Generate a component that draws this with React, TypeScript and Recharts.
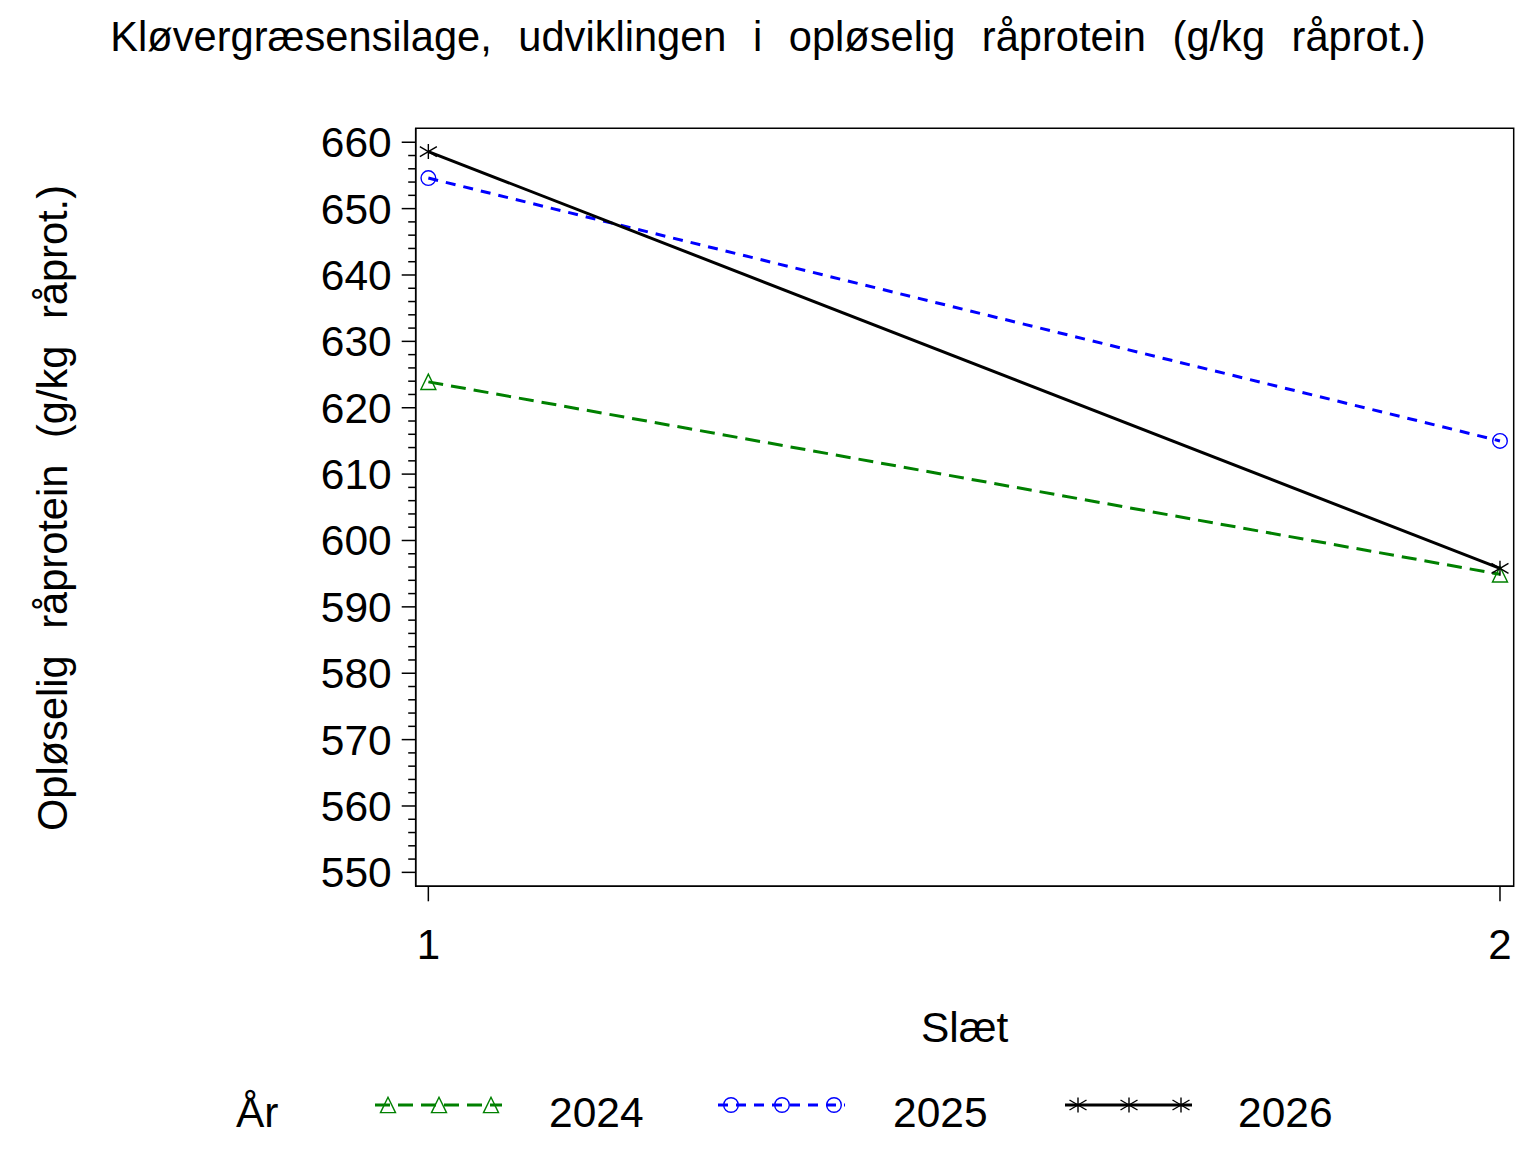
import { LineChart, Line, XAxis, YAxis, ReferenceArea } from 'recharts'

// Kløvergræsensilage — opløselig råprotein pr. slæt, tre år oveni hinanden.

const FONT = '"Liberation Sans", Arial, Helvetica, sans-serif'

const SLAET = [1, 2]
const AAR = ['2024', '2025', '2026']
const VAL_2024 = [623.9, 594.9]
const VAL_2025 = [654.6, 615.0]
const VAL_2026 = [658.6, 595.8]
const Y_MAJOR = [550, 560, 570, 580, 590, 600, 610, 620, 630, 640, 650, 660]
const Y_DOMAIN: [number, number] = [547.9, 662.1]
// lidt luft på hver side af slæt 1 og 2, som i SAS-plottet
const X_DOMAIN: [number, number] = [0.9882, 2.0128]

const TITLE = 'Kløvergræsensilage, udviklingen i opløselig råprotein (g/kg råprot.)'
const Y_TITLE = 'Opløselig råprotein (g/kg råprot.)'
const X_TITLE = 'Slæt'
const LEGEND_TITLE = 'År'

type MarkerType = 'triangle' | 'circle' | 'star'

const SERIES: Array<{ aar: string; values: number[]; color: string; dash?: string; marker: MarkerType }> = [
  { aar: AAR[0], values: VAL_2024, color: '#008000', dash: '15 8', marker: 'triangle' },
  { aar: AAR[1], values: VAL_2025, color: '#0000FF', dash: '10 8', marker: 'circle' },
  { aar: AAR[2], values: VAL_2026, color: '#000000', marker: 'star' },
]

// mindre streger hver 2. enhed mellem de store
const Y_TICKS: number[] = []
Y_MAJOR.forEach((v, i) => {
  Y_TICKS.push(v)
  if (i < Y_MAJOR.length - 1) for (let m = 2; m < 10; m += 2) Y_TICKS.push(v + m)
})

const data = SLAET.map((s, i) => {
  const row: Record<string, number> = { slaet: s }
  SERIES.forEach(se => { row[`v${se.aar}`] = se.values[i] })
  return row
})

function Marker({ type, cx, cy, color }: { type: MarkerType; cx: number; cy: number; color: string }) {
  if (type === 'triangle') {
    return (
      <polygon
        points={`${cx},${cy - 7.7} ${cx - 7.5},${cy + 7.6} ${cx + 7.5},${cy + 7.6}`}
        fill="none" stroke={color} strokeWidth={1.4}
      />
    )
  }
  if (type === 'circle') {
    return <circle cx={cx} cy={cy} r={7.3} fill="none" stroke={color} strokeWidth={1.4} />
  }
  return (
    <g stroke={color} strokeWidth={1.4}>
      <line x1={cx} y1={cy - 7.5} x2={cx} y2={cy + 7.5} />
      <line x1={cx - 8.5} y1={cy - 5} x2={cx + 8.5} y2={cy + 5} />
      <line x1={cx - 8.5} y1={cy + 5} x2={cx + 8.5} y2={cy - 5} />
    </g>
  )
}

function YTick(props: any) {
  const { x, y, payload } = props
  const major = payload.value % 10 === 0
  return (
    <g>
      <line x1={x - (major ? 14 : 7.5)} x2={x} y1={y} y2={y} stroke="#000" strokeWidth={1.5} />
      {major && (
        <text x={x - 24} y={y + 15} textAnchor="end" fontSize={42.5} fontFamily={FONT} fill="#000">
          {payload.value}
        </text>
      )}
    </g>
  )
}

function XTick(props: any) {
  const { x, y, payload } = props
  return (
    <text x={x} y={y + 57.7} textAnchor="middle" fontSize={42} fontFamily={FONT} fill="#000">
      {payload.value}
    </text>
  )
}

const LEGEND_POS = [
  { line: 375, label: 549 },
  { line: 718, label: 893 },
  { line: 1065, label: 1238 },
]

export default function App() {
  return (
    <div style={{ position: 'relative', width: 1536, height: 1152, background: '#fff' }}>
      <style>{'body{margin:0}'}</style>
      <LineChart
        width={1536}
        height={1152}
        data={data}
        margin={{ top: 128.3, right: 22.3, left: 315.7, bottom: 205.7 }}
      >
        <XAxis
          dataKey="slaet"
          type="number"
          domain={X_DOMAIN}
          ticks={SLAET}
          allowDataOverflow
          height={60}
          tickSize={15}
          tickMargin={0}
          tickLine={{ stroke: '#000', strokeWidth: 1.5 }}
          axisLine={{ stroke: '#000', strokeWidth: 1.5 }}
          tick={<XTick />}
        />
        <YAxis
          type="number"
          domain={Y_DOMAIN}
          ticks={Y_TICKS}
          interval={0}
          allowDataOverflow
          width={100}
          tickSize={0}
          tickMargin={0}
          tickLine={false}
          axisLine={{ stroke: '#000', strokeWidth: 1.5 }}
          tick={<YTick />}
        />
        {/* ramme rundt om plotområdet */}
        <ReferenceArea
          x1={X_DOMAIN[0]}
          x2={X_DOMAIN[1]}
          y1={Y_DOMAIN[0]}
          y2={Y_DOMAIN[1]}
          fill="none"
          fillOpacity={0}
          stroke="#000"
          strokeWidth={1.5}
          ifOverflow="visible"
        />
        {SERIES.map(se => (
          <Line
            key={se.aar}
            type="linear"
            dataKey={`v${se.aar}`}
            name={se.aar}
            stroke={se.color}
            strokeWidth={3}
            strokeDasharray={se.dash}
            isAnimationActive={false}
            activeDot={false}
            dot={(p: any) => (
              <Marker key={`${se.aar}-${p.index}`} type={se.marker} cx={p.cx} cy={p.cy} color={se.color} />
            )}
          />
        ))}
      </LineChart>

      <svg
        width={1536}
        height={1152}
        style={{ position: 'absolute', left: 0, top: 0, pointerEvents: 'none' }}
        fontFamily={FONT}
        fill="#000"
      >
        <text x={768} y={51} textAnchor="middle" fontSize={41.6} wordSpacing={15}>{TITLE}</text>
        <text
          x={67}
          y={508}
          textAnchor="middle"
          fontSize={41.6}
          wordSpacing={15}
          transform="rotate(-90, 67, 508)"
        >
          {Y_TITLE}
        </text>
        <text x={964.7} y={1042} textAnchor="middle" fontSize={42.5}>{X_TITLE}</text>

        <text x={236} y={1127} fontSize={42.5}>{LEGEND_TITLE}</text>
        {SERIES.map((se, i) => {
          const lx = LEGEND_POS[i].line
          const ly = 1105
          return (
            <g key={se.aar}>
              <line
                x1={lx} x2={lx + 127} y1={ly} y2={ly}
                stroke={se.color} strokeWidth={3} strokeDasharray={se.dash}
              />
              {[13, 64, 116].map(off => (
                <Marker key={off} type={se.marker} cx={lx + off} cy={ly} color={se.color} />
              ))}
              <text x={LEGEND_POS[i].label} y={1127} fontSize={42.5}>{se.aar}</text>
            </g>
          )
        })}
      </svg>
    </div>
  )
}
